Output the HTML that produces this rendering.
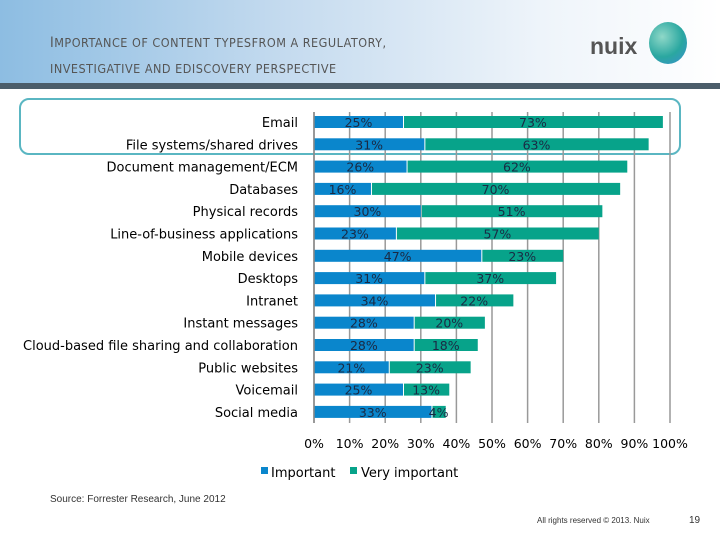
<!DOCTYPE html>
<html><head><meta charset="utf-8"><style>
body{margin:0;width:720px;height:540px;overflow:hidden;background:#fff;font-family:"DejaVu Sans","Liberation Sans",sans-serif;}
#hdr{position:absolute;left:0;top:0;width:720px;height:83px;background:linear-gradient(90deg,#8dbde2 0%,#c5dbef 40%,#eef4fa 75%,#fff 100%);}
#bar{position:absolute;left:0;top:83px;width:720px;height:6px;background:#4b5d6a;}
.t{position:absolute;left:50px;color:#555;font-family:"DejaVu Sans Condensed",sans-serif;letter-spacing:0.5px}
</style></head><body>
<div id="hdr"></div>
<div id="bar"></div>
<div class="t" style="top:35px;font-size:14px">I<span style="font-size:12.5px">MPORTANCE OF CONTENT TYPESFROM A REGULATORY,</span></div>
<div class="t" style="top:61px;font-size:12.5px">INVESTIGATIVE AND EDISCOVERY PERSPECTIVE</div>
<div style="position:absolute;left:590px;top:33px;font:bold 23px 'Liberation Sans',sans-serif;color:#555">nuix</div>
<div style="position:absolute;left:649px;top:22px;width:38px;height:42px;border-radius:50%;background:radial-gradient(circle at 35% 35%,#8fd8c8,#2aa7a0 55%,#3a8fd0)"></div>
<svg id="chart" width="720" height="540" style="position:absolute;left:0;top:0"></svg>
<div style="position:absolute;left:50px;top:494px;font:10px 'Liberation Sans',sans-serif;color:#333">Source: Forrester Research, June 2012</div>
<div style="position:absolute;left:537px;top:516px;font:8px 'Liberation Sans',sans-serif;color:#333">All rights reserved © 2013. Nuix</div>
<div style="position:absolute;left:689px;top:515px;font:10px 'Liberation Sans',sans-serif;color:#333">19</div>
<script>
const categories=["Email","File systems/shared drives","Document management/ECM","Databases","Physical records","Line-of-business applications","Mobile devices","Desktops","Intranet","Instant messages","Cloud-based file sharing and collaboration","Public websites","Voicemail","Social media"];
const important=[25,31,26,16,30,23,47,31,34,28,28,21,25,33];
const veryImportant=[73,63,62,70,51,57,23,37,22,20,18,23,13,4];
const ticks=[0,10,20,30,40,50,60,70,80,90,100];
const NS="http://www.w3.org/2000/svg";
const svg=document.getElementById('chart');
const x=v=>314+v*3.56;
const y=i=>122+i*22.3;
function el(t,a){const e=document.createElementNS(NS,t);for(const k in a)e.setAttribute(k,a[k]);svg.appendChild(e);return e;}
let box=el('rect',{x:20,y:99,width:660,height:55,rx:9,fill:'none',stroke:'#5ab6c2','stroke-width':2});


ticks.forEach(t=>{
 let g=el('line',{x1:x(t),x2:x(t),y1:112,y2:423,stroke:'#999','stroke-width':1.5});
 
 
 let l=el('text',{x:x(t),y:448,'text-anchor':'middle','font-size':12.5,fill:'#000'});l.textContent=t+'%';
 
 
});
categories.forEach((c,i)=>{
 const cy=y(i);
 let l=el('text',{x:298,y:cy+5,'text-anchor':'end','font-size':13,fill:'#000'});l.textContent=c;
 
 
 let b1=el('rect',{x:x(0),y:cy-6,width:x(important[i])-x(0),height:12,fill:'#0a86cc'});
 
 
 let b2=el('rect',{x:x(important[i])+1,y:cy-6,width:x(important[i]+veryImportant[i])-x(important[i])-1,height:12,fill:'#07a38a'});
 
 
 let t1=el('text',{x:(x(0)+x(important[i]))/2,y:cy+5,'text-anchor':'middle','font-size':12.5,fill:'#1a2a44'});t1.textContent=important[i]+'%';
 
 
 let t2=el('text',{x:(x(important[i])+x(important[i]+veryImportant[i]))/2,y:cy+5,'text-anchor':'middle','font-size':12.5,fill:'#1a2a44'});t2.textContent=veryImportant[i]+'%';
 
 
});
let a=el('line',{x1:x(0),x2:x(0),y1:112,y2:423,stroke:'#888','stroke-width':1.5});


let s1=el('rect',{x:261,y:467,width:7,height:7,fill:'#0a86cc'});


let l1=el('text',{x:271,y:477,'font-size':13});l1.textContent='Important';


let s2=el('rect',{x:350,y:467,width:7,height:7,fill:'#07a38a'});


let l2=el('text',{x:361,y:477,'font-size':13});l2.textContent='Very important';


</script>
</body></html>
